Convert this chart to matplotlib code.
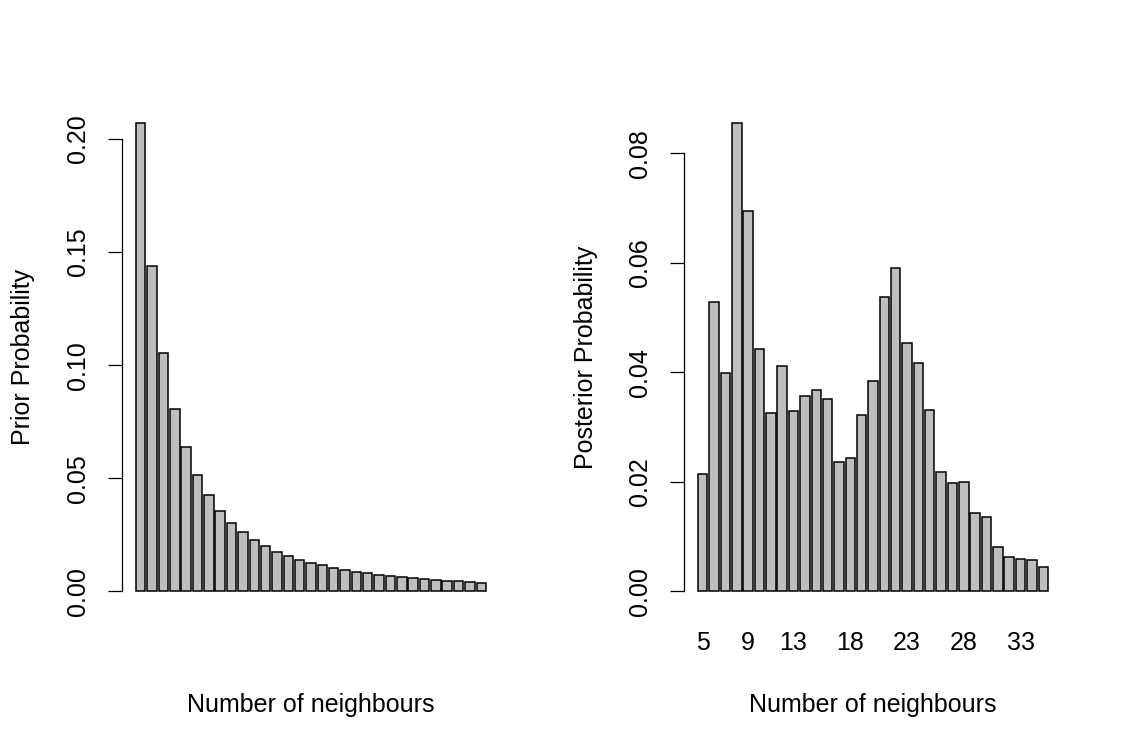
import matplotlib
matplotlib.use("Agg")
import matplotlib.pyplot as plt
import numpy as np

plt.rcParams['font.family'] = ['Liberation Sans', 'DejaVu Sans']

neighbours = list(range(5, 36))
prior = [0.2072, 0.1438, 0.1055, 0.0807, 0.0637, 0.0515, 0.0425, 0.0355, 0.0302, 0.0260,
         0.0226, 0.0199, 0.0174, 0.0156, 0.0139, 0.0125, 0.0114, 0.0102, 0.0093, 0.0085,
         0.0080, 0.0074, 0.0068, 0.0062, 0.0058, 0.0055, 0.0050, 0.0047, 0.0044, 0.0041,
         0.0038]
posterior = [0.0214, 0.0528, 0.0398, 0.0856, 0.0695, 0.0443, 0.0326, 0.0412, 0.0330, 0.0357,
             0.0367, 0.0352, 0.0236, 0.0243, 0.0322, 0.0385, 0.0538, 0.0590, 0.0453, 0.0417,
             0.0331, 0.0218, 0.0198, 0.0199, 0.0143, 0.0135, 0.0080, 0.0063, 0.0059, 0.0057,
             0.0044]
prior_ticks = [0.00, 0.05, 0.10, 0.15, 0.20]
prior_ticklabels = ["0.00", "0.05", "0.10", "0.15", "0.20"]
post_ticks = [0.00, 0.02, 0.04, 0.06, 0.08]
post_ticklabels = ["0.00", "0.02", "0.04", "0.06", "0.08"]
post_xlabels = [5, 9, 13, 18, 23, 28, 33]

W, H = 1125, 750
fig = plt.figure(figsize=(W / 100, H / 100), dpi=100)

FS = 18

def rbar(ax, values, yticks, yticklabels, ylabel, xlabels=None):
    n = len(values)
    centers = 0.7 + 1.2 * np.arange(n)
    ax.bar(centers, values, width=1.0, color='#BEBEBE', edgecolor='black', linewidth=1.1)
    lo, hi = 0.2, 0.2 + 1.2 * n - 0.2
    d = (hi - lo) * 0.04
    ax.set_xlim(lo - d, hi + d)
    ymax = max(values)
    dy = ymax * 0.04
    ax.set_ylim(-dy, ymax + dy)
    for s in ['top', 'right', 'bottom']:
        ax.spines[s].set_visible(False)
    ax.spines['left'].set_bounds(yticks[0], yticks[-1])
    ax.spines['left'].set_linewidth(0.9)
    ax.set_yticks(yticks)
    ax.set_yticklabels(yticklabels, rotation=90, va='center')
    ax.tick_params(axis='y', direction='out', length=10, width=0.9, pad=13, labelsize=FS)
    if xlabels is None:
        ax.set_xticks([])
    else:
        idx = [neighbours.index(v) for v in xlabels]
        ax.set_xticks(centers[idx])
        ax.set_xticklabels([str(v) for v in xlabels])
        ax.tick_params(axis='x', length=0, pad=15, labelsize=FS)
    ax.set_xlabel("Number of neighbours", fontsize=FS, labelpad=0)
    ax.set_ylabel(ylabel, fontsize=FS, labelpad=22)
    ax.patch.set_visible(False)

ax1 = fig.add_axes([122 / W, 1 - 610 / H, 378 / W, 506 / H])
rbar(ax1, prior, prior_ticks, prior_ticklabels, "Prior Probability")
ax1.xaxis.set_label_coords(0.5, -(693 - 610) / 506, transform=ax1.transAxes)

ax2 = fig.add_axes([684 / W, 1 - 610 / H, 378 / W, 506 / H])
rbar(ax2, posterior, post_ticks, post_ticklabels, "Posterior Probability", post_xlabels)
ax2.xaxis.set_label_coords(0.5, -(693 - 610) / 506, transform=ax2.transAxes)

fig.savefig("out.png", dpi=100, facecolor='white')
